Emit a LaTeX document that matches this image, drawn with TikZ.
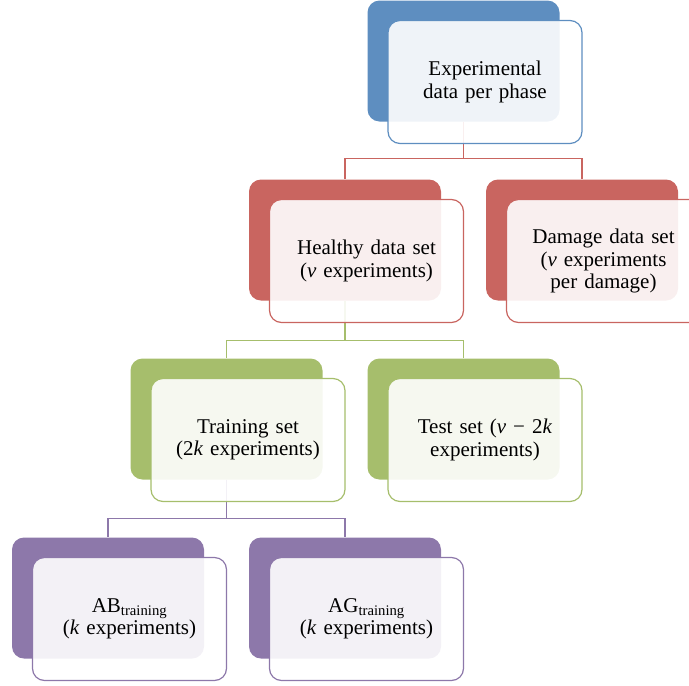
\documentclass[tikz,border=0pt]{standalone}
\usepackage{fontspec}
\setmainfont{Liberation Serif}

\definecolor{phaseblue}{RGB}{94,142,192}
\definecolor{setred}{RGB}{201,101,96}
\definecolor{setgreen}{RGB}{166,190,108}
\definecolor{setpurple}{RGB}{141,120,170}

\tikzset{
  backbox/.style={rectangle, rounded corners=12pt, inner sep=0pt,
    minimum width=192pt, minimum height=121pt},
  frontbox/.style={rectangle, rounded corners=12pt, line width=1.2pt,
    fill=white, fill opacity=0.9, text opacity=1, inner sep=0pt,
    minimum width=194pt, minimum height=123pt, text width=172pt, align=center,
    xshift=21.5pt, yshift=-21pt, font=\fontsize{21}{22.5}\selectfont},
  link/.style={line width=1.1pt}
}

\begin{document}
\begin{tikzpicture}[x=1pt,y=-1pt]
    \useasboundingbox (0,0) rectangle (689,686);

    % Back boxes
    \node[backbox,fill=phaseblue] (datab) at (463.5,61) {};
    \node[backbox,fill=setred] (healthyb) at (345,240) {};
    \node[backbox,fill=setred] (damageb) at (582,240) {};
    \node[backbox,fill=setgreen] (trainb) at (226.5,419) {};
    \node[backbox,fill=setgreen] (testb) at (463.5,419) {};
    \node[backbox,fill=setpurple] (abb) at (108,598) {};
    \node[backbox,fill=setpurple] (agb) at (345,598) {};

    % Connectors
    \draw[link,setred] (datab.south) -- ++(0,37) -| (healthyb.north);
    \draw[link,setred] (datab.south) -- ++(0,37) -| (damageb.north);
    \draw[link,setgreen] (healthyb.south) -- ++(0,40) -| (trainb.north);
    \draw[link,setgreen] (healthyb.south) -- ++(0,40) -| (testb.north);
    \draw[link,setpurple] (trainb.south) -- ++(0,39) -| (abb.north);
    \draw[link,setpurple] (trainb.south) -- ++(0,39) -| (agb.north);

    % Front boxes with the texts
    \node[frontbox,draw=phaseblue] (data) at (datab) {Experimental\\data per phase};
    \node[frontbox,draw=setred] (healthy) at (healthyb) {Healthy data set\\(\textit{ν} experiments)};
    \node[frontbox,draw=setred] (damage) at (damageb) {Damage data set\\(\textit{ν} experiments\\per damage)};
    \node[frontbox,draw=setgreen] (train) at (trainb) {Training set\\(2\textit{k} experiments)};
    \node[frontbox,draw=setgreen] (test) at (testb) {Test set (\textit{ν} − 2\textit{k}\\experiments)};
    \node[frontbox,draw=setpurple] (ab) at (abb) {AB\textsubscript{training}\\(\textit{k} experiments)};
    \node[frontbox,draw=setpurple] (ag) at (agb) {AG\textsubscript{training}\\(\textit{k} experiments)};
\end{tikzpicture}
\end{document}
